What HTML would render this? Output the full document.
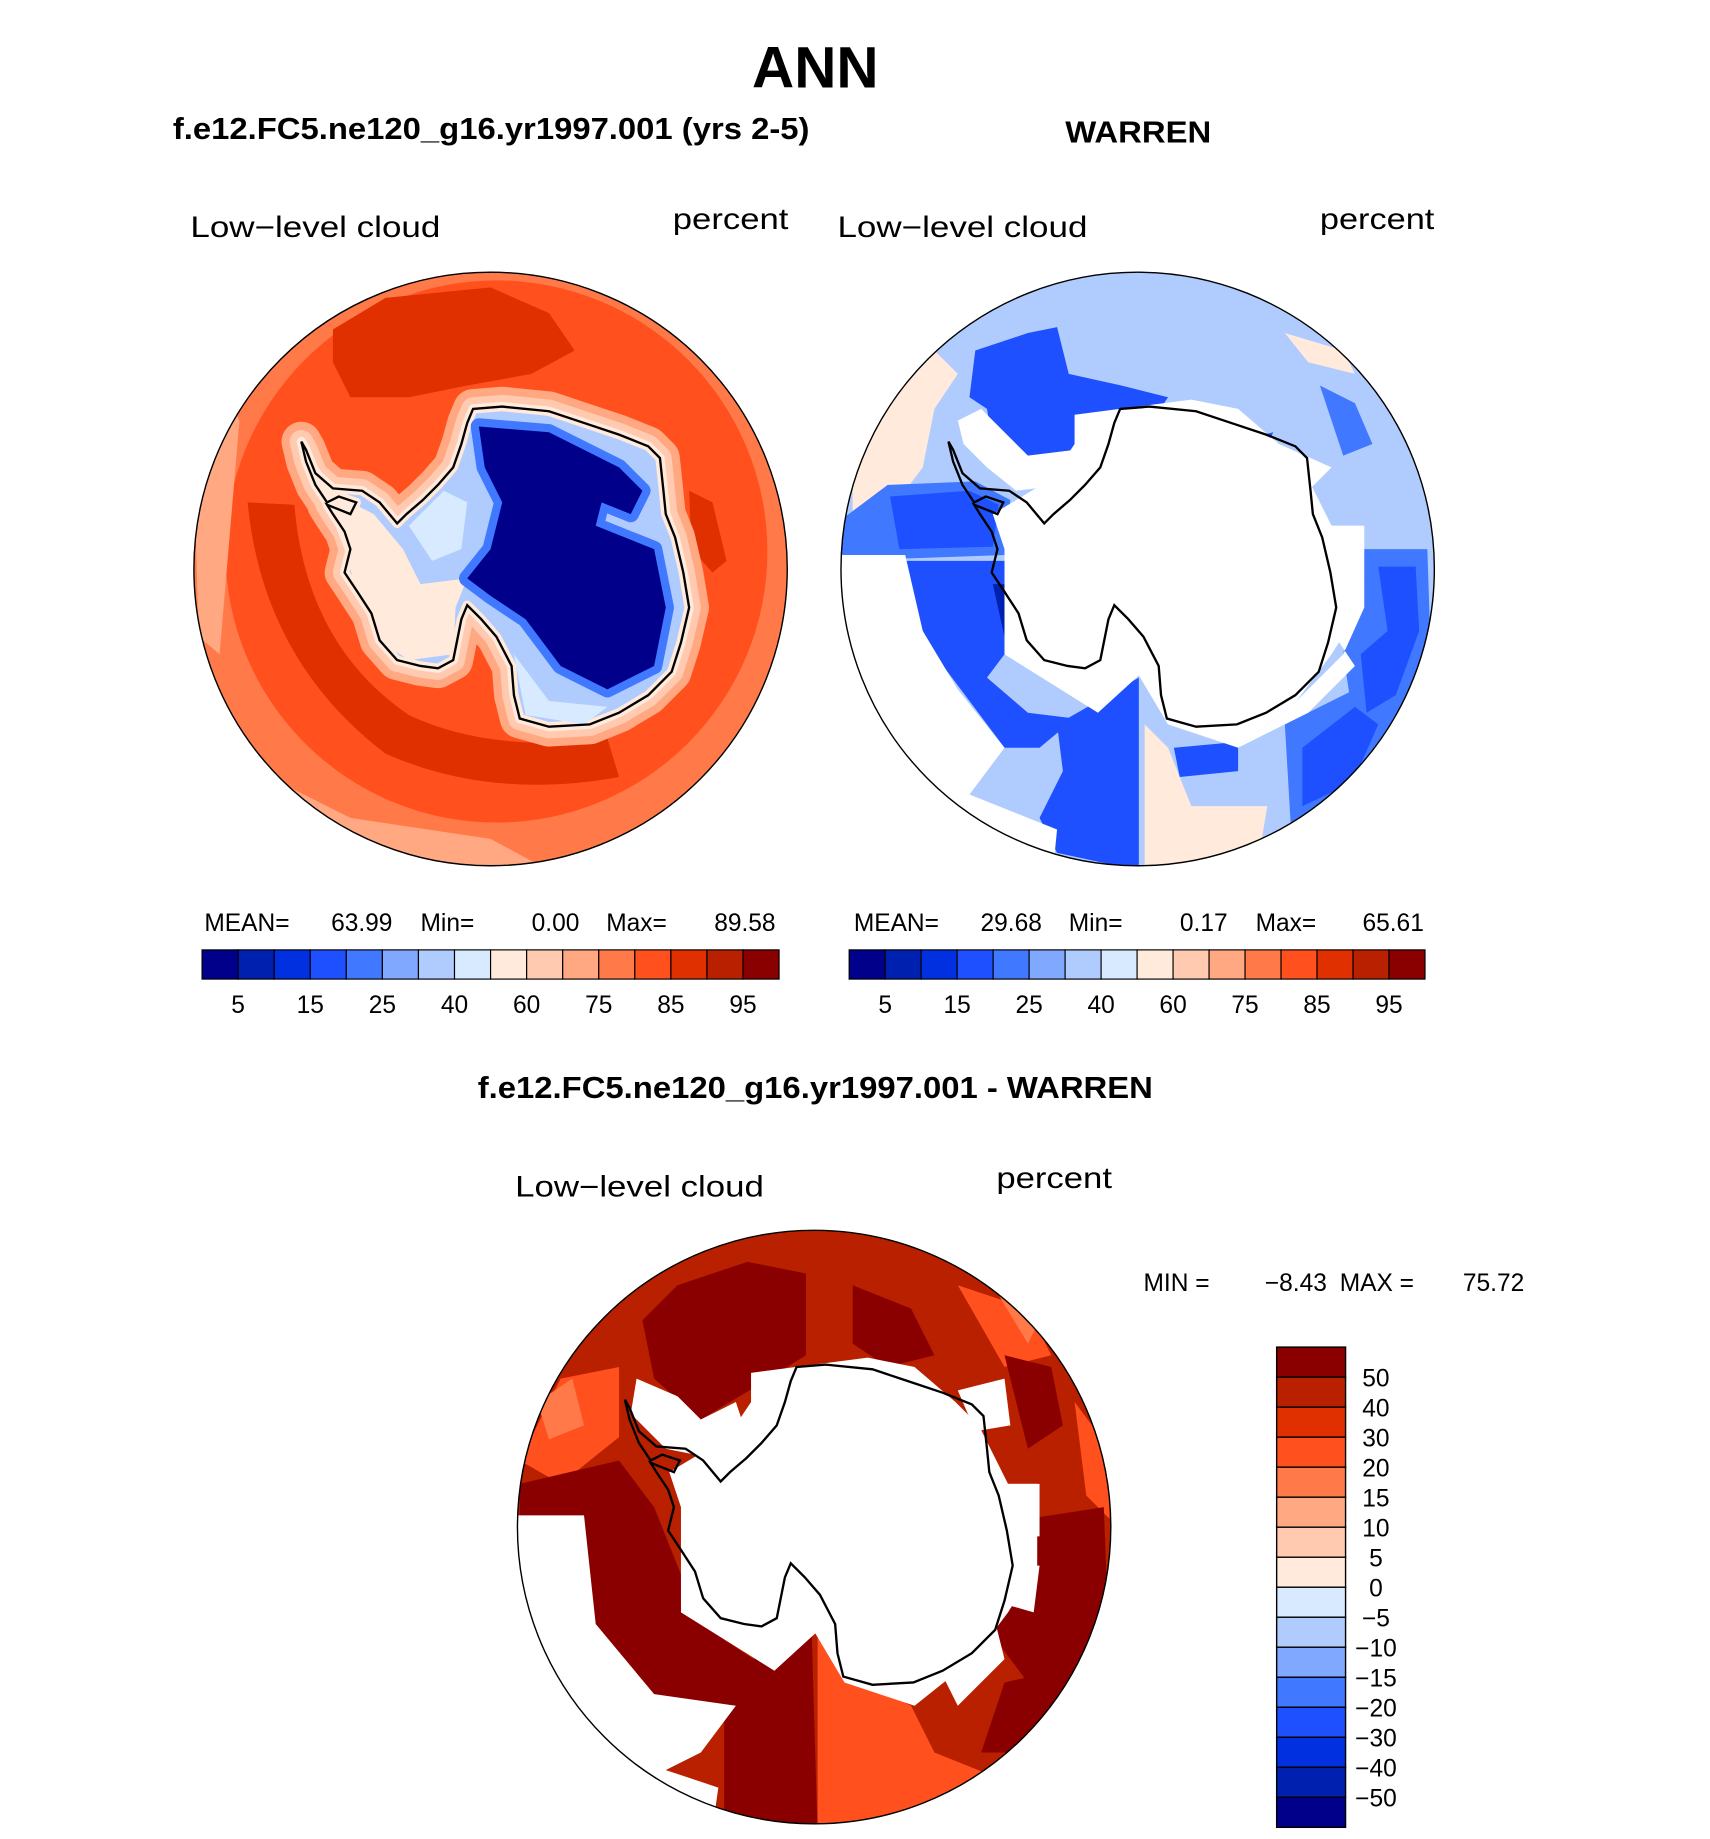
<!DOCTYPE html>
<html><head><meta charset="utf-8"><title>ANN Low-level cloud</title>
<style>
html,body{margin:0;padding:0;background:#fff;}
svg{display:block;}
text{font-family:"Liberation Sans",sans-serif;fill:#000;}
.b{font-weight:bold;}
</style></head>
<body>
<svg id="fig" width="1710" height="1839" viewBox="0 0 1464 1574" preserveAspectRatio="none" xmlns="http://www.w3.org/2000/svg">
<defs>
  <clipPath id="cL"><circle cx="420" cy="487" r="254"/></clipPath>
  <clipPath id="cR"><circle cx="974" cy="487" r="254"/></clipPath>
  <clipPath id="cB"><circle cx="697" cy="1307" r="254"/></clipPath>
  <path id="coast" d="M405,350 L430,348 470,352 500,362 530,372 555,382 565,392 568,420 570,440 578,460 585,490 590,520 583,550 575,575 555,595 530,610 505,620 470,622 445,615 440,595 438,570 425,545 412,530 400,518 395,530 392,545 388,565 375,572 360,570 340,565 325,548 318,525 305,505 295,490 300,470 295,455 285,440 280,432 300,440 305,430 290,425 280,430 270,415 262,395 258,378 262,385 270,405 285,418 310,420 325,430 340,448 348,440 362,428 375,415 388,400 395,380 400,362 Z"/>
  <path id="hole" d="M920,355 L1020,342 1060,350 1095,380 1115,400 1140,450 1165,450 1165,520 1140,560 1110,600 1060,640 1000,620 975,578 940,610 860,560 860,470 850,440 900,410 920,380 Z"/>
</defs>

<text class="b" x="698" y="75" font-size="50" text-anchor="middle">ANN</text>
<text class="b" x="148" y="119" font-size="26" textLength="545" lengthAdjust="spacingAndGlyphs">f.e12.FC5.ne120_g16.yr1997.001 (yrs 2-5)</text>
<text class="b" x="912" y="122" font-size="26" textLength="125" lengthAdjust="spacingAndGlyphs">WARREN</text>

<!-- LEFT MAP -->
<g>
  <g clip-path="url(#cL)">
    <circle cx="420" cy="487" r="254" fill="#ff7a48"/>
    <circle cx="425" cy="472" r="232" fill="#ff501e"/>
    <path fill="#ffa882" d="M166,400 L190,330 205,360 188,560 170,545 Z M200,650 L300,700 420,718 470,745 250,745 Z M560,705 L620,672 640,700 600,725 Z"/>
    <path fill="#e03000" d="M285,282 L330,255 420,246 470,268 492,300 455,320 400,330 350,340 300,340 285,310 Z M212,430 Q225,565 330,645 Q420,685 530,665 L520,632 Q420,645 350,612 Q262,552 252,432 Z M590,420 L610,430 622,480 610,490 592,470 Z"/>
    <use href="#coast" fill="none" stroke="#ffa882" stroke-width="34" stroke-linejoin="round"/>
    <use href="#coast" fill="none" stroke="#ffcab0" stroke-width="20" stroke-linejoin="round"/>
    <use href="#coast" fill="#b0ccff" stroke="#ffeadb" stroke-width="8" stroke-linejoin="round"/>
    <path fill="#ffeadb" d="M262,385 L290,425 320,440 345,470 360,500 400,495 390,520 388,560 350,565 325,548 305,505 295,470 280,432 Z"/>
    <path fill="#d8eaff" d="M350,450 L380,420 400,430 395,470 370,480 Z M440,560 L470,600 520,605 500,620 450,612 Z"/>
    <path fill="#4078ff" stroke="#4078ff" stroke-width="14" stroke-linejoin="round" d="M410,365 L470,370 530,400 550,420 540,440 515,430 510,450 560,470 570,520 560,570 520,590 480,570 450,530 420,510 400,495 420,470 430,430 415,400 Z"/>
    <path fill="#00008a" d="M410,365 L470,370 530,400 550,420 540,440 515,430 510,450 560,470 570,520 560,570 520,590 480,570 450,530 420,510 400,495 420,470 430,430 415,400 Z"/>
  </g>
  <use href="#coast" fill="none" stroke="#000" stroke-width="2"/>
  <circle cx="420" cy="487" r="254" fill="none" stroke="#000" stroke-width="1.2"/>
</g>

<!-- RIGHT MAP -->
<g>
  <g clip-path="url(#cR)">
    <circle cx="974" cy="487" r="254" fill="#b0ccff"/>
    <path fill="#ffeadb" d="M730,380 L760,330 800,300 820,320 800,350 790,400 760,440 730,445 Z M980,620 L1000,640 1020,690 1085,690 1080,720 1030,745 980,745 Z M1100,285 L1150,300 1160,320 1120,310 Z"/>
    <path fill="#4078ff" d="M720,445 L760,415 835,412 865,428 860,475 720,480 Z M1165,470 L1222,470 1225,560 1200,610 1160,625 1150,560 Z M1100,620 L1170,585 1200,610 1170,690 1105,705 Z M1130,330 L1160,345 1175,380 1150,390 Z"/>
    <path fill="#1e50ff" d="M835,300 L880,285 905,280 915,320 960,330 1000,340 990,355 930,360 920,390 880,390 850,380 845,350 830,340 Z M762,425 L830,420 855,432 850,468 770,470 Z M775,480 L860,480 870,500 880,540 860,560 845,580 880,610 920,615 890,640 860,640 830,600 800,560 780,520 Z M905,620 L975,580 975,745 905,730 890,700 910,660 Z M1180,485 L1212,485 1215,540 1195,595 1170,610 1165,560 1188,540 Z M1115,640 L1160,605 1180,620 1158,670 1115,690 Z M1005,640 L1060,635 1060,660 1010,665 Z M1070,375 L1090,370 1080,395 1065,390 Z"/>
    <path fill="#0020b0" d="M850,500 L870,500 880,540 860,545 Z M1068,378 L1085,372 1078,395 Z"/>
    <path fill="#fff" d="M700,475 L775,475 790,540 820,590 860,640 830,680 905,710 900,760 700,760 Z M820,360 L840,350 880,390 920,385 910,415 870,420 845,400 825,380 Z M1095,380 L1140,400 1120,420 1100,400 Z M1140,450 L1168,450 1168,520 1150,560 1110,600 1060,640 1120,610 1160,570 1140,540 Z M1130,495 L1168,495 1168,515 1130,515 Z M835,690 L905,710 900,735 825,700 Z"/>
    <use href="#hole" fill="#fff"/>
  </g>
  <use href="#coast" transform="translate(554,0)" fill="none" stroke="#000" stroke-width="2"/>
  <circle cx="974" cy="487" r="254" fill="none" stroke="#000" stroke-width="1.2"/>
</g>

<!-- BOTTOM MAP -->
<text class="b" x="409" y="940" font-size="26" textLength="578" lengthAdjust="spacingAndGlyphs">f.e12.FC5.ne120_g16.yr1997.001 - WARREN</text>
<g>
  <g clip-path="url(#cB)">
    <circle cx="697" cy="1307" r="254" fill="#b82000"/>
    <path fill="#ff501e" d="M700,1400 L720,1430 780,1460 800,1500 850,1520 820,1570 700,1570 Z M445,1250 L480,1180 530,1170 530,1230 480,1270 Z M820,1100 L880,1120 900,1160 860,1170 Z M920,1200 L950,1240 950,1300 930,1280 Z"/>
    <path fill="#ff7a48" d="M460,1200 L490,1180 500,1220 470,1232 Z M850,1100 L890,1130 880,1150 Z"/>
    <path fill="#8a0000" d="M580,1100 L640,1080 690,1090 690,1160 650,1185 600,1215 560,1180 550,1130 Z M500,1300 L560,1290 580,1340 600,1390 660,1430 630,1460 560,1450 510,1390 Z M445,1270 L530,1250 560,1290 500,1300 445,1300 Z M620,1430 L695,1400 700,1570 620,1570 Z M880,1300 L945,1290 950,1420 880,1440 850,1400 Z M860,1440 L950,1420 900,1500 840,1500 Z M730,1100 L780,1120 800,1160 760,1170 730,1150 Z M860,1160 L900,1170 910,1220 880,1240 Z"/>
    <path fill="#fff" d="M443,1297 L500,1297 510,1390 560,1450 630,1460 600,1500 560,1520 443,1520 Z M545,1180 L580,1195 600,1215 630,1200 640,1230 620,1250 570,1240 540,1210 Z M850,1270 L890,1270 890,1315 850,1315 Z M850,1340 L890,1340 885,1380 850,1370 Z M555,1510 L615,1530 610,1565 560,1538 Z M820,1190 L860,1180 865,1220 835,1225 Z M800,1420 L850,1380 860,1420 820,1460 Z"/>
    <use href="#hole" transform="translate(-277,820)" fill="#fff"/>
  </g>
  <use href="#coast" transform="translate(277,820)" fill="none" stroke="#000" stroke-width="2"/>
  <circle cx="697" cy="1307" r="254" fill="none" stroke="#000" stroke-width="1.2"/>
</g>

<g id="labels" font-size="25">
  <text x="163" y="203" textLength="214" lengthAdjust="spacingAndGlyphs">Low−level cloud</text>
  <text x="576" y="196" textLength="99" lengthAdjust="spacingAndGlyphs">percent</text>
  <text x="717" y="203" textLength="214" lengthAdjust="spacingAndGlyphs">Low−level cloud</text>
  <text x="1130" y="196" textLength="98" lengthAdjust="spacingAndGlyphs">percent</text>
  <text x="441" y="1024" textLength="213" lengthAdjust="spacingAndGlyphs">Low−level cloud</text>
  <text x="853" y="1017" textLength="99" lengthAdjust="spacingAndGlyphs">percent</text>
</g>
<g font-size="21">
  <text x="175" y="797">MEAN=</text>
  <text x="336" y="797" text-anchor="end">63.99</text>
  <text x="360" y="797">Min=</text>
  <text x="496" y="797" text-anchor="end">0.00</text>
  <text x="519" y="797">Max=</text>
  <text x="664" y="797" text-anchor="end">89.58</text>
  <text x="731" y="797">MEAN=</text>
  <text x="892" y="797" text-anchor="end">29.68</text>
  <text x="915" y="797">Min=</text>
  <text x="1051" y="797" text-anchor="end">0.17</text>
  <text x="1075" y="797">Max=</text>
  <text x="1219" y="797" text-anchor="end">65.61</text>
  <text x="979" y="1105">MIN  =</text>
  <text x="1136" y="1105" text-anchor="end">−8.43</text>
  <text x="1147" y="1105">MAX  =</text>
  <text x="1305" y="1105" text-anchor="end">75.72</text>
</g>
<g id="bars"></g>
</svg>
<script>
const absColors = ["#00008a","#0020b0","#0030e0","#1e50ff","#4078ff","#80a8ff","#b0ccff","#d8eaff","#ffeadb","#ffcab0","#ffa882","#ff7a48","#ff501e","#e03000","#b82000","#8a0000"];
const absLabels = ["5","15","25","40","60","75","85","95"];
const diffColors = ["#8a0000","#b82000","#e03000","#ff501e","#ff7a48","#ffa882","#ffcab0","#ffeadb","#d8eaff","#b0ccff","#80a8ff","#4078ff","#1e50ff","#0030e0","#0020b0","#00008a"];
const diffLabels = ["50","40","30","20","15","10","5","0","−5","−10","−15","−20","−30","−40","−50"];

const NS = "http://www.w3.org/2000/svg";
const bars = document.getElementById("bars");
function mk(tag, attrs){const e=document.createElementNS(NS,tag);for(const k in attrs)e.setAttribute(k,attrs[k]);bars.appendChild(e);return e;}

function hbar(x0,x1,y0,h,prefix){
  const w=(x1-x0)/absColors.length;
  absColors.forEach((c,i)=>{
    const r=mk("rect",{x:x0+i*w,y:y0,width:w,height:h,fill:c,stroke:"#000","stroke-width":1});
    
    
  });
  absLabels.forEach((l,i)=>{
    const t=mk("text",{x:x0+(2*i+1)*w,y:y0+h+29,"font-size":21,"text-anchor":"middle"});
    t.textContent=l;
    
    
  });
}
hbar(173,667,813,25,"left");
hbar(727,1220,813,25,"right");

(function(){
  const x0=1093,w=59,y0=1153,y1=1564;
  const h=(y1-y0)/diffColors.length;
  diffColors.forEach((c,i)=>{
    const r=mk("rect",{x:x0,y:y0+i*h,width:w,height:h,fill:c,stroke:"#000","stroke-width":1.2});
    
    
  });
  diffLabels.forEach((l,i)=>{
    const t=mk("text",{x:1178,y:y0+(i+1)*h+8,"font-size":21,"text-anchor":"middle"});
    t.textContent=l;
    
    
  });
})();
</script>
</body></html>
